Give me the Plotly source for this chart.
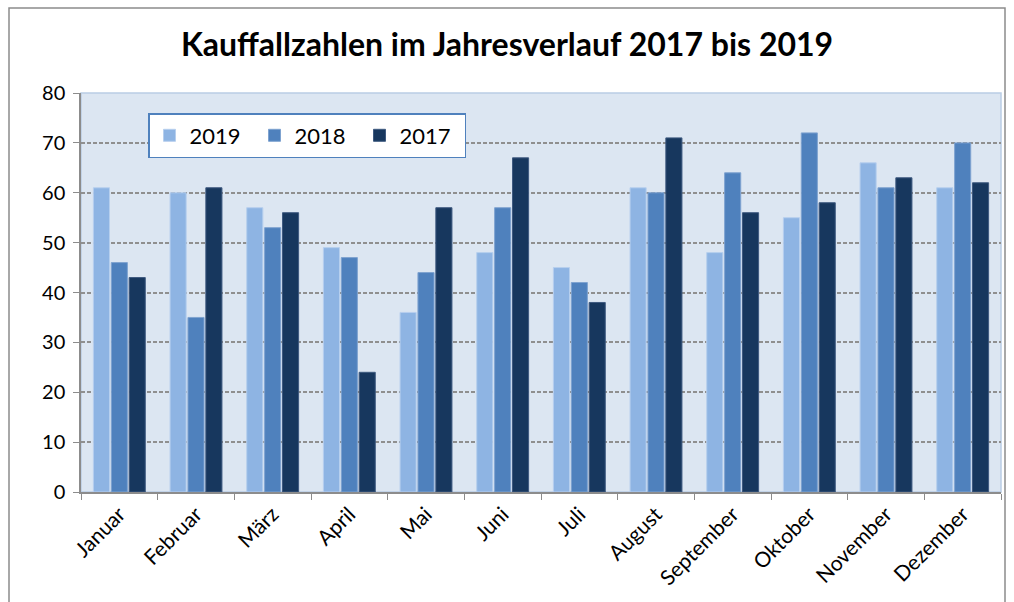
import plotly.graph_objects as go

months = ["Januar", "Februar", "März", "April", "Mai", "Juni", "Juli",
          "August", "September", "Oktober", "November", "Dezember"]
v2019 = [61, 60, 57, 49, 36, 48, 45, 61, 48, 55, 66, 61]
v2018 = [46, 35, 53, 47, 44, 57, 42, 60, 64, 72, 61, 70]
v2017 = [43, 61, 56, 24, 57, 67, 38, 71, 56, 58, 63, 62]
series_names = ["2019", "2018", "2017"]
colors = ["#8EB4E3", "#4F81BD", "#17375E"]
edge_colors = ["#B7CFEE", "#7FA3D0", "#3F5A80"]

fig = go.Figure()
for name, vals, c, ec in zip(series_names, [v2019, v2018, v2017], colors, edge_colors):
    fig.add_trace(go.Bar(x=months, y=vals, name=name, marker_color=c,
                         marker_line_width=1, marker_line_color=ec))

W, H = 1014, 602
L, R, T, B = 81, 13, 93, 110
pw, ph = W - L - R, H - T - B

fig.update_layout(
    width=W, height=H,
    margin=dict(l=L, r=R, t=T, b=B, autoexpand=False),
    paper_bgcolor="white",
    plot_bgcolor="#DCE6F2",
    font=dict(family="Lato, Noto Sans, sans-serif", size=20, color="black"),
    title=dict(text="<b>Kauffallzahlen im Jahresverlauf 2017 bis 2019</b>",
               x=0.5, xanchor="center", y=1 - 45 / H, yanchor="middle",
               font=dict(size=32)),
    barmode="group", bargap=0.30, bargroupgap=0.1,
    legend=dict(orientation="h", x=(148 - L) / pw, y=(H - B - 113) / ph,
                xanchor="left", yanchor="top",
                bgcolor="white", bordercolor="#4F81BD", borderwidth=1.5,
                font=dict(size=22), itemwidth=30, traceorder="normal",
                entrywidth=60),
    showlegend=True,
)
fig.update_xaxes(showline=True, linecolor="#8C8C8C", linewidth=1.5,
                 ticks="outside", ticklen=6, tickcolor="#8C8C8C",
                 tickson="boundaries", tickangle=-45, mirror=False,
                 showgrid=False, tickfont=dict(size=21))
fig.update_yaxes(range=[0, 80], dtick=10, showline=True, linecolor="#8C8C8C",
                 linewidth=1.5, ticks="outside", ticklen=6, tickcolor="#8C8C8C",
                 showgrid=True, gridcolor="#8F8F8F", griddash="4px,2px",
                 gridwidth=1.5, zeroline=False, tickfont=dict(size=20),
                 ticklabelstandoff=4)

# plot area border (light blue)
fig.add_shape(type="rect", xref="paper", yref="paper", x0=0, x1=1, y0=0, y1=1,
              line=dict(color="#B9CDE5", width=1.5), layer="below")
# outer chart border
fig.add_shape(type="rect", xref="paper", yref="paper",
              x0=(9 - L) / pw, x1=(1005 - L) / pw,
              y0=(H - B - 610) / ph, y1=(H - B - 8) / ph,
              line=dict(color="#8C8C8C", width=1.5))

fig.write_html("out.html", config={"displayModeBar": False},
               post_script="document.body.style.margin='0';document.body.style.overflow='hidden';")
